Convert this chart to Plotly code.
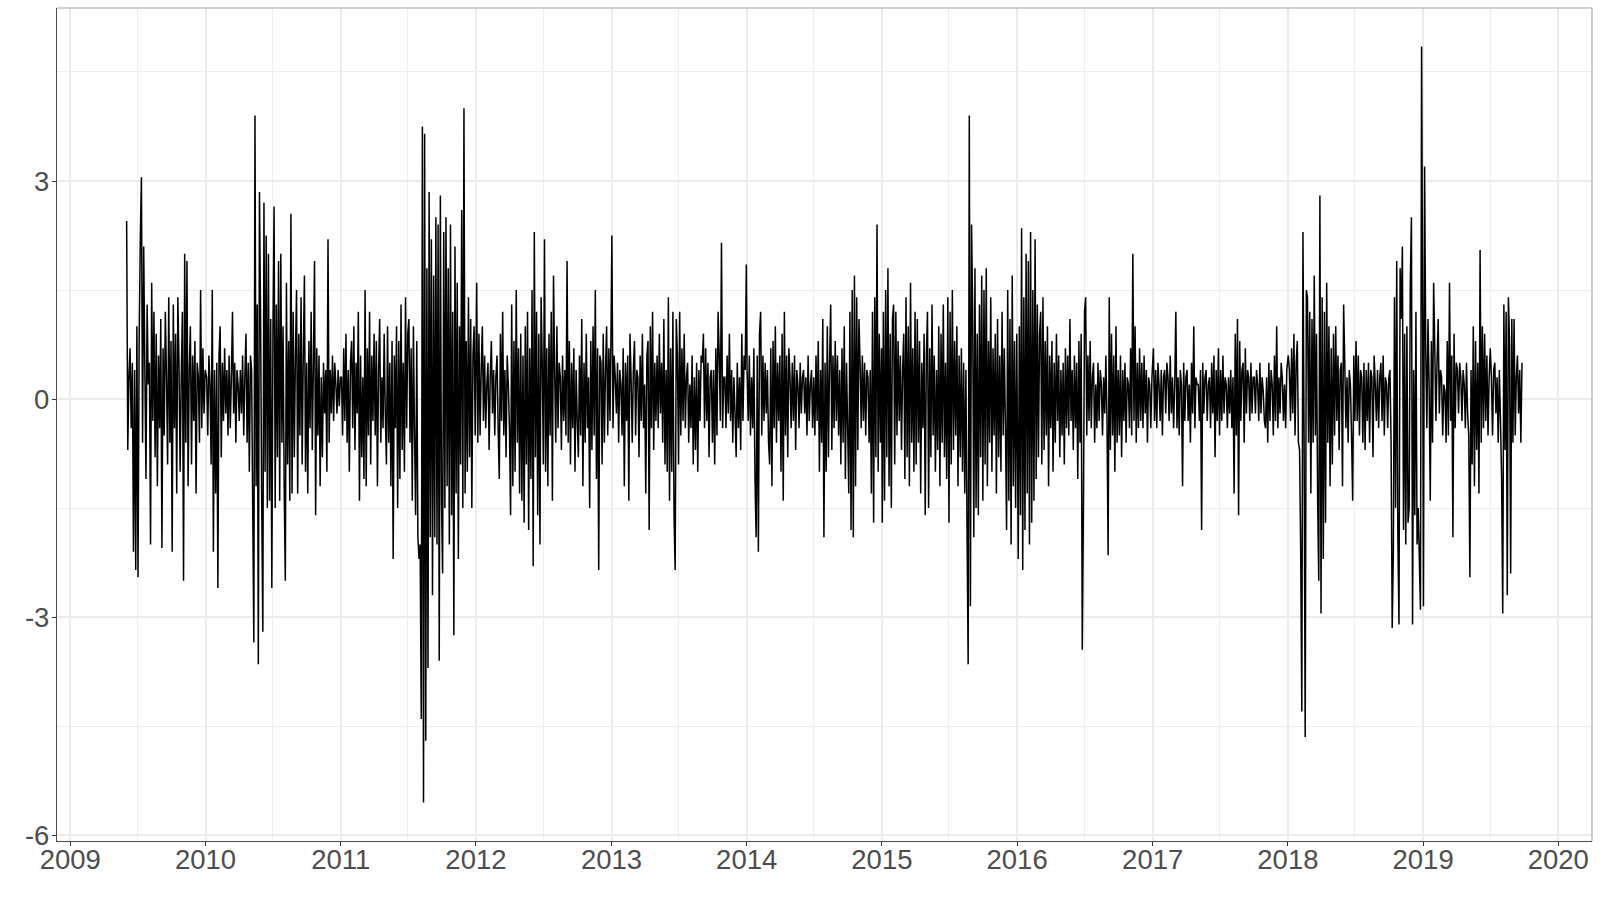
import pandas as pd
import plotly.graph_objects as go

# Axis tick labels
y_tick_values = [-6, -3, 0, 3]
y_tick_labels = ["-6", "-3", "0", "3"]

# Daily-return style series (about 10 values per month)
y2009 = [
    2.45, -0.7, 0.3, 0.7, -0.4, 0.5, -2.1, 0.4, -2.35, 1.0,
    -2.45, 0.8, 2.2, 3.05, -0.6, 2.1, 0.4, -1.1, 1.3, 0.2,
    0.5, -2.0, 1.6, -0.3, 1.2, -0.8, 0.9, -1.2, 0.6, -0.4,
    1.1, -2.05, 0.7, -0.5, 1.2, 0.3, -0.9, 1.4, -0.6, 0.8,
    -2.1, 1.3, -0.4, 0.9, -1.3, 1.4, 0.5, -1.0, 0.3, 1.2,
    -2.5, 2.0, -0.6, 1.9, -1.2, 0.4, 1.0, -0.9, 0.6, -0.3,
    0.8, -1.3, 0.5, 0.3, -0.6, 1.5, -0.4, 0.7, -0.2, 0.4,
]
y2010 = [
    0.3, -0.5, 0.6, 0.2, -0.9, 1.5, -2.1, 0.4, -1.3, 0.5,
    -2.6, 0.6, 1.0, -0.8, 0.5, -0.3, 0.7, -0.2, 0.4, -0.5,
    0.6, -0.4, 0.3, 1.2, -0.2, 0.5, -0.6, 0.4, 0.2, -0.3,
    0.4, -0.2, 0.6, -0.5, 0.3, 0.9, -0.6, 0.5, -1.0, 0.6,
    0.4, -1.5, -3.35, 3.9, -1.2, 1.3, -3.65, 2.85, 1.1, -1.4,
    -3.2, 2.7, -1.0, 2.25, -1.5, 2.0, -1.4, 1.1, -2.6, 0.9,
    2.65, -1.5, 1.3, -0.8, 1.9, -1.4, 2.0, -0.6, 1.0, -1.2,
    -2.5, 1.6, -0.9, 0.8, -1.4, 2.55, -1.3, 1.2, -0.8, 0.6,
    1.5, -1.3, 0.9, -0.5, 1.4, -0.9, 0.6, 1.7, -1.0, 0.5,
    -1.3, 0.8, -0.4, 1.2, -0.7, 0.5, 1.9, -1.6, 0.7, -0.5,
    0.6, -1.2, 0.3, -0.8, 0.5, -0.2, 0.4, -1.0, 2.2, -0.6,
    0.4, -0.2, 0.6, -0.3, 0.5, 0.2, -0.2, 0.4, -0.1, 0.3,
]
y2011 = [
    0.3, -0.5, 0.7, -0.3, 0.9, -0.6, 0.4, -1.0, 0.5, 0.8,
    -0.4, 1.0, -0.7, 0.5, -0.2, 1.2, -1.4, 0.6, -0.8, 0.3,
    -1.1, 1.5, -1.2, 0.7, -0.5, 1.2, -0.9, 0.6, -0.3, 0.9,
    -0.5, 0.8, -1.2, 0.4, 1.1, -0.6, 0.3, -0.4, 0.9, -0.2,
    -0.9, 1.0, -0.6, 0.5, -1.2, 0.8, -2.2, 0.6, -0.4, 1.0,
    -1.5, 0.8, -1.1, 1.3, -0.7, 0.5, -1.0, 1.4, -0.4, 0.9,
    1.1, -0.6, 0.7, -1.4, 1.0, -0.5, -1.6, 0.8, -1.9, -2.2,
    -2.0, -4.4, 3.75, -5.55, 3.65, -4.7, 1.8, -3.7, 2.85, -1.9,
    2.2, -2.7, 1.7, -1.9, 2.5, -2.0, 2.4, -3.6, 2.8, -1.4,
    -2.4, 2.3, -1.5, 2.5, -1.2, 1.8, -2.0, 2.4, -1.6, 1.2,
    -3.25, 2.1, -1.3, 1.6, -2.2, 1.0, -0.9, 2.6, -1.5, 4.0,
    -1.3, 0.8, -1.0, 1.4, -0.8, 1.1, -1.5, 0.6, 1.0, -0.5,
]
y2012 = [
    1.6, -0.6, 0.9, -0.5, 0.4, 1.0, -0.3, 0.6, -0.4, 0.2,
    0.5, -0.7, 0.3, 0.8, -0.2, 0.4, -0.5, 0.3, 0.6, -0.4,
    -1.1, 0.9, -0.3, 1.2, -0.5, 0.4, -0.8, 0.6, 0.2, -0.4,
    -1.6, 1.3, -1.2, 0.8, -1.0, 1.5, -0.6, 0.7, -1.3, 0.9,
    -1.4, 0.6, -1.7, 1.0, -0.9, 1.2, -1.8, 0.7, -1.1, 1.5,
    -2.3, 2.3, -0.8, 1.2, -1.6, 0.9, -2.0, 1.4, 0.5, -0.9,
    2.2, -1.0, 0.7, -1.2, 0.9, -0.5, 1.2, -1.4, 1.7, 0.4,
    -0.6, 1.0, -0.4, 0.5, 0.3, -0.7, 0.6, -0.3, 0.4, -0.5,
    1.9, -0.6, 0.8, -0.9, 0.5, -0.4, 0.7, -1.0, 0.4, -0.3,
    -0.8, 0.6, -0.5, 1.1, -1.2, 0.5, -0.6, 0.9, -0.4, 0.3,
    -1.5, 0.8, -0.7, 1.0, -0.5, 1.5, -1.1, 0.7, -2.35, 0.6,
    0.5, -0.9, 0.9, -0.6, 0.4, 1.0, -0.5, 0.7, -0.3, 1.1,
]
y2013 = [
    2.25, -0.4, 0.6, 0.3, -0.2, 0.5, -0.6, 0.4, 0.2, -0.5,
    0.7, -1.2, 0.5, -0.3, 0.6, -1.4, 0.9, 0.3, -0.6, 0.4,
    0.8, -0.5, 0.4, 0.3, -0.8, 0.6, -0.3, 0.9, -0.4, 0.2,
    -1.3, 0.6, 0.8, -1.8, 1.0, -0.4, 1.2, -0.7, 0.5, -0.3,
    0.6, -0.4, 0.9, -0.2, 0.5, -0.6, 1.1, -0.9, 0.4, -1.0,
    1.4, -1.4, 0.7, -1.0, 1.2, -1.6, -2.35, 1.1, 0.6, -0.9,
    1.2, -0.5, 0.7, -0.3, 0.9, -0.4, 0.3, 0.5, -0.6, 0.2,
    -0.4, 0.6, -0.9, 0.3, -0.7, 0.5, -1.0, 0.4, -0.3, 0.6,
    0.5, 0.9, -0.4, 0.7, -0.3, 0.5, -0.8, 0.3, 0.4, -0.6,
    0.4, -0.9, 0.7, -0.5, 1.2, 0.6, -0.3, 2.15, -0.4, 0.3,
    0.3, -0.4, 0.6, -0.2, 0.9, -0.3, 0.4, -0.6, 0.3, -0.2,
    -0.8, 0.5, -0.4, 0.3, -0.7, 0.9, -0.3, 0.6, 0.4, 1.85,
]
y2014 = [
    0.4, -0.3, 0.6, -0.5, 0.3, -0.4, 0.7, -1.1, -1.9, 0.6,
    -2.1, 0.9, 1.2, -0.5, 0.6, -0.3, 0.5, -0.2, 0.4, -0.6,
    -0.9, 0.7, -1.2, 0.8, -0.4, 1.0, -0.6, 0.5, -0.3, 0.6,
    -1.0, 0.9, -1.4, 1.2, -0.5, 0.6, -0.8, 0.7, 0.3, -0.4,
    0.5, -0.3, 0.6, -0.7, 0.4, 0.2, -0.4, 0.5, -0.2, 0.3,
    0.4, -0.2, 0.3, -0.5, 0.6, -0.3, 0.2, 0.4, -0.4, 0.3,
    -0.5, 0.6, -0.3, 0.8, -1.0, 0.4, -0.6, 1.1, -1.9, 0.5,
    -1.0, 1.0, -0.8, 0.5, 1.3, -0.7, 0.6, -0.4, 0.8, -0.3,
    0.6, -0.5, 0.4, -0.9, 0.7, -0.6, 1.0, -1.1, 0.5, -0.4,
    -1.3, 1.2, -1.8, 1.5, -1.9, 1.7, -1.2, 1.4, -0.7, 1.1,
    0.5, -0.4, 0.6, -0.3, 0.5, -0.5, 0.4, 0.3, -0.6, 0.4,
    -1.3, 1.2, -1.7, 1.4, -0.8, 2.4, -1.0, 0.9, -0.6, 0.7,
]
y2015 = [
    -1.7, 1.2, -1.4, 1.5, -0.8, 1.8, -1.2, 0.9, -1.5, 1.1,
    1.3, -0.9, 1.2, -0.5, 0.8, -0.3, 0.6, -0.7, 0.4, 0.9,
    -1.1, 1.4, -0.8, 1.0, -1.2, 1.6, -0.6, 0.7, -1.0, 1.2,
    -0.9, 1.1, -0.6, 0.8, -1.3, 0.5, -0.4, 0.9, -1.6, 0.6,
    1.2, -1.5, 0.7, -0.8, 1.3, -0.5, 0.6, -1.0, 0.4, -0.7,
    1.0, -1.2, 0.9, -0.6, 1.3, -0.8, 0.5, -1.1, 1.4, -1.7,
    1.2, -0.9, 1.5, -0.7, 0.8, -0.5, 1.0, -1.2, 0.6, -0.8,
    0.7, -1.0, 0.5, -1.3, 0.4, -1.8, -3.65, 3.9, -2.85, 2.4,
    1.2, -1.9, 1.8, -1.5, 0.9, -1.6, 1.3, -0.8, 1.7, -1.4,
    1.5, -0.9, 1.8, -1.2, 0.8, -0.6, 1.4, -1.0, 0.7, -0.5,
    0.9, -1.3, 1.1, -0.8, 0.6, -1.0, 1.2, -0.5, 0.7, -0.4,
    -1.8, 1.5, -1.4, 1.1, -2.0, 1.7, -1.2, 0.8, -1.5, 0.9,
]
y2016 = [
    -2.2, 1.0, -1.6, 2.35, -2.35, 1.4, -1.8, 2.0, -1.3, 1.9,
    -2.0, 2.3, -1.7, 1.5, -1.4, 2.2, -1.1, 1.3, -0.8, 0.9,
    1.2, -0.9, 1.4, -0.7, 0.8, -0.5, 1.0, -1.2, 0.6, -0.4,
    0.8, -1.0, 0.5, -0.6, 0.9, -0.3, 0.6, -0.8, 0.4, -0.5,
    0.5, -0.9, 0.7, -0.4, 0.6, -0.5, 1.1, -0.3, 0.4, -0.7,
    0.6, -0.4, 0.5, -1.1, 0.8, -0.6, 0.9, -3.45, -1.5, 1.2,
    1.4, -0.5, 0.6, -0.3, 0.8, -0.4, 0.3, 0.5, -0.6, 0.2,
    -0.4, 0.5, -0.3, 0.4, 0.2, -0.5, 0.3, -0.2, 0.6, -0.3,
    -2.15, 1.4, -0.7, 0.9, -0.5, 0.6, -1.0, 1.0, -0.6, 0.4,
    -0.5, 0.6, -0.8, 0.4, -0.3, 0.5, -0.6, 0.3, 0.2, -0.4,
    0.7, -0.5, 2.0, -0.3, 1.0, -0.6, 0.5, -0.4, 0.7, -0.3,
    0.5, -0.4, 0.6, -0.2, 0.4, -0.6, 0.3, 0.2, -0.4, 0.3,
]
y2017 = [
    0.7, -0.3, 0.4, -0.4, 0.5, 0.2, -0.3, 0.4, -0.5, 0.3,
    0.4, -0.2, 0.5, 0.3, -0.3, 0.6, -0.2, 0.3, -0.4, 0.2,
    1.2, -0.4, 0.3, -0.5, 0.4, 0.2, -1.2, 0.5, -0.3, 0.3,
    0.4, -0.3, 0.2, -0.6, 0.5, -0.2, 1.0, -0.4, 0.3, 0.2,
    0.2, -0.3, 0.4, -1.8, 0.5, -0.2, 0.3, 0.4, -0.3, 0.2,
    0.3, -0.4, 0.5, -0.2, 0.6, -0.8, 0.4, -0.3, 0.7, -0.5,
    0.4, -0.3, 0.6, -0.2, 0.3, 0.2, -0.4, 0.3, -0.2, 0.4,
    -0.4, 0.3, -1.3, 0.9, -0.5, 1.1, -1.6, 0.8, -0.3, 0.4,
    0.5, -0.6, 0.7, -0.2, 0.4, 0.3, -0.3, 0.5, -0.2, 0.3,
    0.3, -0.2, 0.4, 0.2, -0.3, 0.5, -0.2, 0.3, 0.1, -0.3,
    -0.4, 0.3, -0.6, 0.5, -0.3, 0.4, 0.2, -0.5, 0.6, -0.3,
    1.0, -0.4, 0.3, -0.2, 0.5, 0.3, -0.3, 0.2, -0.4, 0.4,
]
y2018 = [
    0.6, 0.4, -0.3, 0.7, -0.2, 0.9, -0.5, 0.5, 0.8, -0.6,
    -0.7, -2.1, -4.3, 2.3, -0.5, -4.65, 1.5, 1.4, -0.6, 1.2,
    -1.3, 1.1, -0.6, 1.7, -0.5, 0.9, -1.4, -2.5, 2.8, -2.95,
    1.4, -2.2, 1.2, -1.7, 1.6, -0.6, 1.0, -1.2, 0.7, -0.9,
    0.9, -0.5, 1.0, -0.3, 0.6, -0.7, 0.4, 0.5, -1.2, 1.3,
    0.5, -0.4, 0.3, -0.6, 0.4, 0.2, -0.5, -1.4, 0.6, -0.3,
    0.8, -0.3, 0.6, -0.5, 0.4, 0.3, -0.6, 0.5, -0.7, 0.4,
    -0.3, 0.5, -0.6, 0.4, 0.3, -0.8, 0.6, 0.2, -0.3, 0.4,
    -0.4, 0.3, 0.5, -0.3, 0.6, -0.5, 0.3, 0.2, -0.4, 0.3,
    0.4, -0.6, -3.15, -2.1, 1.4, -1.5, 1.9, -1.9, -3.1, 1.8,
    1.1, 2.1, -1.8, 0.9, -2.0, 1.0, -1.7, -1.5, 1.6, 2.5,
    -3.1, 0.4, -1.6, 1.2, -2.0, -1.5, -2.2, -2.9, 4.85, 0.9,
]
y2019 = [
    -2.85, 3.2, 0.7, -0.4, 1.1, 0.2, -1.4, 0.8, -0.6, 1.6,
    0.7, -0.3, 0.5, 1.1, -0.2, 0.4, 0.3, -0.5, 0.2, 0.1,
    -0.6, 0.8, -0.5, 1.6, -0.3, 0.6, -1.9, 0.9, -0.4, 0.5,
    0.4, -0.2, 0.5, 0.3, -0.3, 0.4, 0.2, -0.4, 0.5, -0.2,
    -0.5, -2.45, 0.4, -0.9, 1.0, -1.2, 0.8, -0.7, 0.5, -1.3,
    2.05, -0.6, 1.0, -0.4, 0.9, -0.3, 0.6, -0.5, 0.3, 0.7,
    0.3, -0.5, 0.4, 0.5, -0.2, 0.3, -0.6, 0.4, -0.3, -1.1,
    -2.95, 1.3, -0.7, 1.2, -2.7, 1.4, 0.8, -2.4, 1.1, -0.6,
    1.1, -0.5, 0.3, 0.6, -0.2, 0.4, -0.6, 0.5,
]

year_spans = [
    ("2009-06-02", "2009-12-31", y2009),
    ("2010-01-04", "2010-12-31", y2010),
    ("2011-01-03", "2011-12-30", y2011),
    ("2012-01-03", "2012-12-31", y2012),
    ("2013-01-02", "2013-12-31", y2013),
    ("2014-01-02", "2014-12-31", y2014),
    ("2015-01-02", "2015-12-31", y2015),
    ("2016-01-04", "2016-12-30", y2016),
    ("2017-01-03", "2017-12-29", y2017),
    ("2018-01-02", "2018-12-31", y2018),
    ("2019-01-02", "2019-09-25", y2019),
]

dates = []
values = []
for start, end, vals in year_spans:
    dates.extend(pd.date_range(start, end, periods=len(vals)))
    values.extend(vals)

fig = go.Figure()
fig.add_trace(go.Scatter(
    x=dates, y=values, mode="lines",
    line=dict(color="black", width=1.5, simplify=False),
    hoverinfo="skip", showlegend=False,
))

grid_major = "#EBEBEB"
grid_minor = "#EEEEEE"
tick_font = dict(family="Liberation Sans, Arial, sans-serif", size=27.5, color="#4D4D4D")

fig.update_layout(
    width=1600, height=900,
    margin=dict(l=57, r=8, t=8, b=59, autoexpand=False),
    paper_bgcolor="white", plot_bgcolor="white",
    xaxis=dict(
        type="date",
        range=["2008-11-26", "2020-04-01"],
        tick0="2009-01-01", dtick="M12", tickformat="%Y",
        showgrid=True, gridcolor=grid_major, gridwidth=1.8,
        minor=dict(dtick="M6", tick0="2009-01-01", showgrid=True, gridcolor=grid_minor, gridwidth=1.1, ticklen=0),
        ticks="outside", ticklen=4, tickwidth=1.2, tickcolor="#333333",
        ticklabelstandoff=-10,
        showline=True, linecolor="#4D4D4D", linewidth=1.2,
        zeroline=False, tickfont=tick_font,
    ),
    yaxis=dict(
        range=[-6.08, 5.38],
        tickmode="array", tickvals=y_tick_values, ticktext=y_tick_labels,
        showgrid=True, gridcolor=grid_major, gridwidth=1.8,
        minor=dict(dtick=1.5, tick0=0, showgrid=True, gridcolor=grid_minor, gridwidth=1.1, ticklen=0),
        ticks="outside", ticklen=4, tickwidth=1.2, tickcolor="#333333",
        ticklabelstandoff=-3,
        showline=True, linecolor="#4D4D4D", linewidth=1.2,
        zeroline=False, tickfont=tick_font,
    ),
    shapes=[
        dict(type="line", xref="paper", yref="paper", x0=0, x1=1, y0=1, y1=1,
             line=dict(color="#A6A6A6", width=1.2)),
        dict(type="line", xref="paper", yref="paper", x0=1, x1=1, y0=0, y1=1,
             line=dict(color="#A6A6A6", width=1.2)),
    ],
)

fig.write_html("out.html", config={"displayModeBar": False},
               post_script="document.body.style.margin='0';")
